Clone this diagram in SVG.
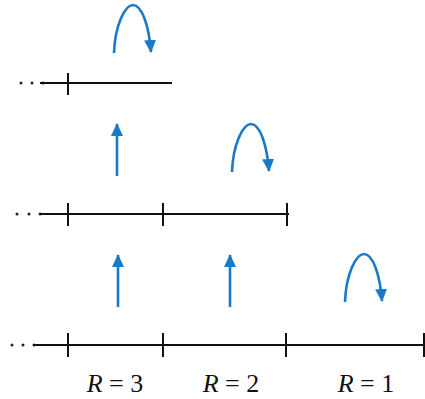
<svg xmlns="http://www.w3.org/2000/svg" width="425" height="399" viewBox="0 0 425 399">
<defs>
<style>
.axis{stroke:#111;stroke-width:2;fill:none}
.tick{stroke:#111;stroke-width:2}
.blue{stroke:#1a7ac6;stroke-width:2.6;fill:none}
.dot{fill:#222}
</style>
<marker id="ah" markerUnits="userSpaceOnUse" markerWidth="14" markerHeight="14" viewBox="0 0 14 14" refX="12" refY="7" orient="auto">
<path d="M0,1 L13,7 L0,13 Z" fill="#1a7ac6"/>
</marker>
</defs>
<g id="connectors">
<path class="blue" d="M114,53 C115,25 125,5 133,5 C142,5 149,26 151,52" marker-end="url(#ah)"/>
<path class="blue" d="M232,172 C233,144 243,124 251,124 C260,124 267,145 269,171" marker-end="url(#ah)"/>
<path class="blue" d="M345,302 C346,274 356,254 364,254 C373,254 380,275 382,301" marker-end="url(#ah)"/>
<line class="blue" x1="117" y1="176" x2="117" y2="124" marker-end="url(#ah)"/>
<line class="blue" x1="118" y1="307" x2="118" y2="255" marker-end="url(#ah)"/>
<line class="blue" x1="230" y1="307" x2="230" y2="255" marker-end="url(#ah)"/>
</g>
<g id="line-top">
<circle class="dot" cx="21" cy="83" r="1.5"/>
<circle class="dot" cx="32" cy="83" r="1.5"/>
<circle class="dot" cx="43" cy="83" r="1.5"/>
<line class="axis" x1="40" y1="83" x2="172" y2="83"/>
<line class="tick" x1="68" y1="73" x2="68" y2="95"/>
</g>
<g id="line-middle">
<circle class="dot" cx="17" cy="214" r="1.5"/>
<circle class="dot" cx="29" cy="214" r="1.5"/>
<circle class="dot" cx="40" cy="214" r="1.5"/>
<line class="axis" x1="40" y1="214" x2="289" y2="214"/>
<line class="tick" x1="68" y1="203" x2="68" y2="226"/>
<line class="tick" x1="163" y1="203" x2="163" y2="226"/>
<line class="tick" x1="287" y1="203" x2="287" y2="226"/>
</g>
<g id="line-bottom">
<circle class="dot" cx="12" cy="345" r="1.5"/>
<circle class="dot" cx="23" cy="345" r="1.5"/>
<circle class="dot" cx="34" cy="345" r="1.5"/>
<line class="axis" x1="33" y1="345" x2="425" y2="345"/>
<line class="tick" x1="68" y1="333" x2="68" y2="357"/>
<line class="tick" x1="163" y1="333" x2="163" y2="357"/>
<line class="tick" x1="286" y1="333" x2="286" y2="357"/>
<line class="tick" x1="424" y1="333" x2="424" y2="357"/>
</g>
<g id="labels" font-family="'Liberation Serif', 'DejaVu Serif', serif" font-size="26" fill="#111" text-anchor="middle">
<text x="115" y="392"><tspan font-style="italic">R</tspan> = 3</text>
<text x="231" y="392"><tspan font-style="italic">R</tspan> = 2</text>
<text x="366" y="392"><tspan font-style="italic">R</tspan> = 1</text>
</g>
</svg>
